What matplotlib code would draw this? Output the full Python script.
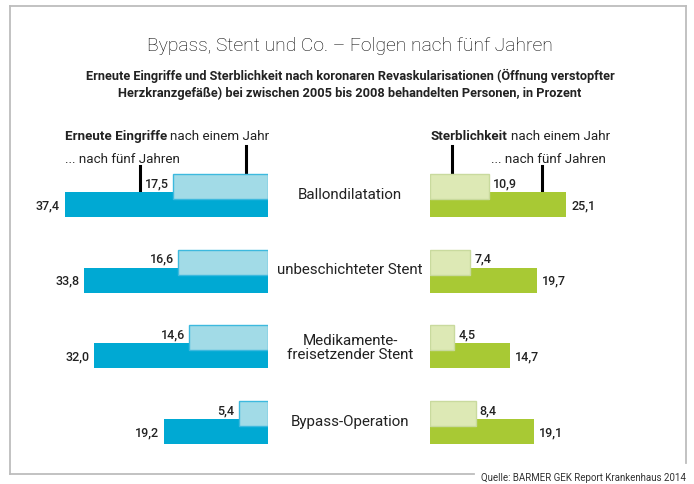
import matplotlib
matplotlib.use('Agg')
import matplotlib.pyplot as plt
from matplotlib.lines import Line2D

# ---------------- data ----------------
categories = ['Ballondilatation', 'unbeschichteter Stent',
              'Medikamente-\nfreisetzender Stent', 'Bypass-Operation']
eingriffe_1j = [17.5, 16.6, 14.6, 5.4]
eingriffe_5j = [37.4, 33.8, 32.0, 19.2]
sterb_1j = [10.9, 7.4, 4.5, 8.4]
sterb_5j = [25.1, 19.7, 14.7, 19.1]

# ---------------- style ----------------
BLUE_DARK = '#00A9D3'
BLUE_LIGHT = '#A2DBE7'
BLUE_EDGE = '#3DB9DE'
GREEN_DARK = '#A8C934'
GREEN_LIGHT = '#DDE9B5'
GREEN_EDGE = '#C9DA9E'
FRAME = '#BDBDBD'
TXT = '#222222'
LEG_FS = 9.6

plt.rcParams['font.family'] = ['Roboto', 'DejaVu Sans']

W, H = 694, 485
fig = plt.figure(figsize=(W / 100, H / 100), dpi=100)

# background axes in pixel coords for frame and headings
bg = fig.add_axes([0, 0, 1, 1])
bg.set_xlim(0, W)
bg.set_ylim(H, 0)
bg.axis('off')

# frame
for xs, ys in [([10, 686], [7, 7]), ([10, 10], [7, 475]),
               ([686, 686], [7, 464]), ([10, 474], [475, 475])]:
    bg.add_line(Line2D(xs, ys, color=FRAME, lw=1.3))

bg.text(350, 46, 'Bypass, Stent und Co. – Folgen nach fünf Jahren',
        ha='center', va='center', fontsize=13.9, fontweight='light', color='#000000')
bg.text(350, 76, 'Erneute Eingriffe und Sterblichkeit nach koronaren Revaskularisationen (Öffnung verstopfter',
        ha='center', va='center', fontsize=9.2, fontweight='bold', color=TXT)
bg.text(350, 93, 'Herzkranzgefäße) bei zwischen 2005 bis 2008 behandelten Personen, in Prozent',
        ha='center', va='center', fontsize=9.2, fontweight='bold', color=TXT)
bg.text(686, 478, 'Quelle: BARMER GEK Report Krankenhaus 2014',
        ha='right', va='center', fontsize=7, color='#333333')

# legend annotations: bold part followed by regular part
renderer = fig.canvas.get_renderer()


def legend_line(x, y, bold, rest):
    t = bg.text(x, y, bold, ha='left', va='center', fontsize=LEG_FS,
                fontweight='bold', color=TXT)
    ext = t.get_window_extent(renderer)
    x_end = bg.transData.inverted().transform((ext.x1, ext.y0))[0]
    bg.text(x_end + 3, y, rest, ha='left', va='center', fontsize=LEG_FS, color=TXT)


legend_line(65, 137, 'Erneute Eingriffe', 'nach einem Jahr')
bg.text(65, 160, '... nach fünf Jahren', ha='left', va='center', fontsize=LEG_FS, color=TXT)
legend_line(431, 137, 'Sterblichkeit', 'nach einem Jahr')
bg.text(606, 160, '... nach fünf Jahren', ha='right', va='center', fontsize=LEG_FS, color=TXT)

# category labels in the middle
rows_y = [195, 270, 348, 422]
for lab, yy in zip(categories, rows_y):
    bg.text(350, yy, lab, ha='center', va='center', fontsize=10.9,
            color=TXT, linespacing=1.0)

# ---------------- bar panels ----------------
px_per_unit = 5.43
row_px = 75.67
top_px, bot_px = 165, 455
ylim = ((bot_px - 196.5) / row_px, -(196.5 - top_px) / row_px)
bar_h = 25 / row_px
off = 9 / row_px
pos = list(range(len(categories)))

left_px, right_edge = 14, 268
axL = fig.add_axes([left_px / W, 1 - bot_px / H, (right_edge - left_px) / W,
                    (bot_px - top_px) / H])
axL.set_xlim((right_edge - left_px) / px_per_unit, 0)
axL.set_ylim(*ylim)
axL.axis('off')

axR = fig.add_axes([430 / W, 1 - bot_px / H, 254 / W, (bot_px - top_px) / H])
axR.set_xlim(0, 254 / px_per_unit)
axR.set_ylim(*ylim)
axR.axis('off')

y5 = [p + off for p in pos]
y1 = [p - off for p in pos]

axL.barh(y5, eingriffe_5j, height=bar_h, color=BLUE_DARK, zorder=2)
axL.barh(y1, eingriffe_1j, height=bar_h, color=BLUE_LIGHT, edgecolor=BLUE_EDGE,
         linewidth=1, zorder=3)
axR.barh(y5, sterb_5j, height=bar_h, color=GREEN_DARK, zorder=2)
axR.barh(y1, sterb_1j, height=bar_h, color=GREEN_LIGHT, edgecolor=GREEN_EDGE,
         linewidth=1, zorder=3)


def fmt(v):
    return f'{v:.1f}'.replace('.', ',')


for i in pos:
    axL.annotate(fmt(eingriffe_5j[i]), (eingriffe_5j[i], y5[i]), xytext=(-5, 0),
                 textcoords='offset pixels', ha='right', va='center',
                 fontsize=9, fontweight='medium', color=TXT)
    axL.annotate(fmt(eingriffe_1j[i]), (eingriffe_1j[i], y1[i]), xytext=(-4, 4),
                 textcoords='offset pixels', ha='right', va='center',
                 fontsize=9, fontweight='medium', color=TXT)
    axR.annotate(fmt(sterb_5j[i]), (sterb_5j[i], y5[i]), xytext=(5, 0),
                 textcoords='offset pixels', ha='left', va='center',
                 fontsize=9, fontweight='medium', color=TXT)
    axR.annotate(fmt(sterb_1j[i]), (sterb_1j[i], y1[i]), xytext=(4, 4),
                 textcoords='offset pixels', ha='left', va='center',
                 fontsize=9, fontweight='medium', color=TXT)

# pointer lines from legend text to the first bars
for xs, ys in [([246, 246], [147, 186]), ([140, 140], [167, 200]),
               ([452, 452], [147, 186]), ([542, 542], [167, 202])]:
    bg.add_line(Line2D(xs, ys, color='black', lw=2.2, zorder=10))

fig.savefig('out.png', dpi=100)
